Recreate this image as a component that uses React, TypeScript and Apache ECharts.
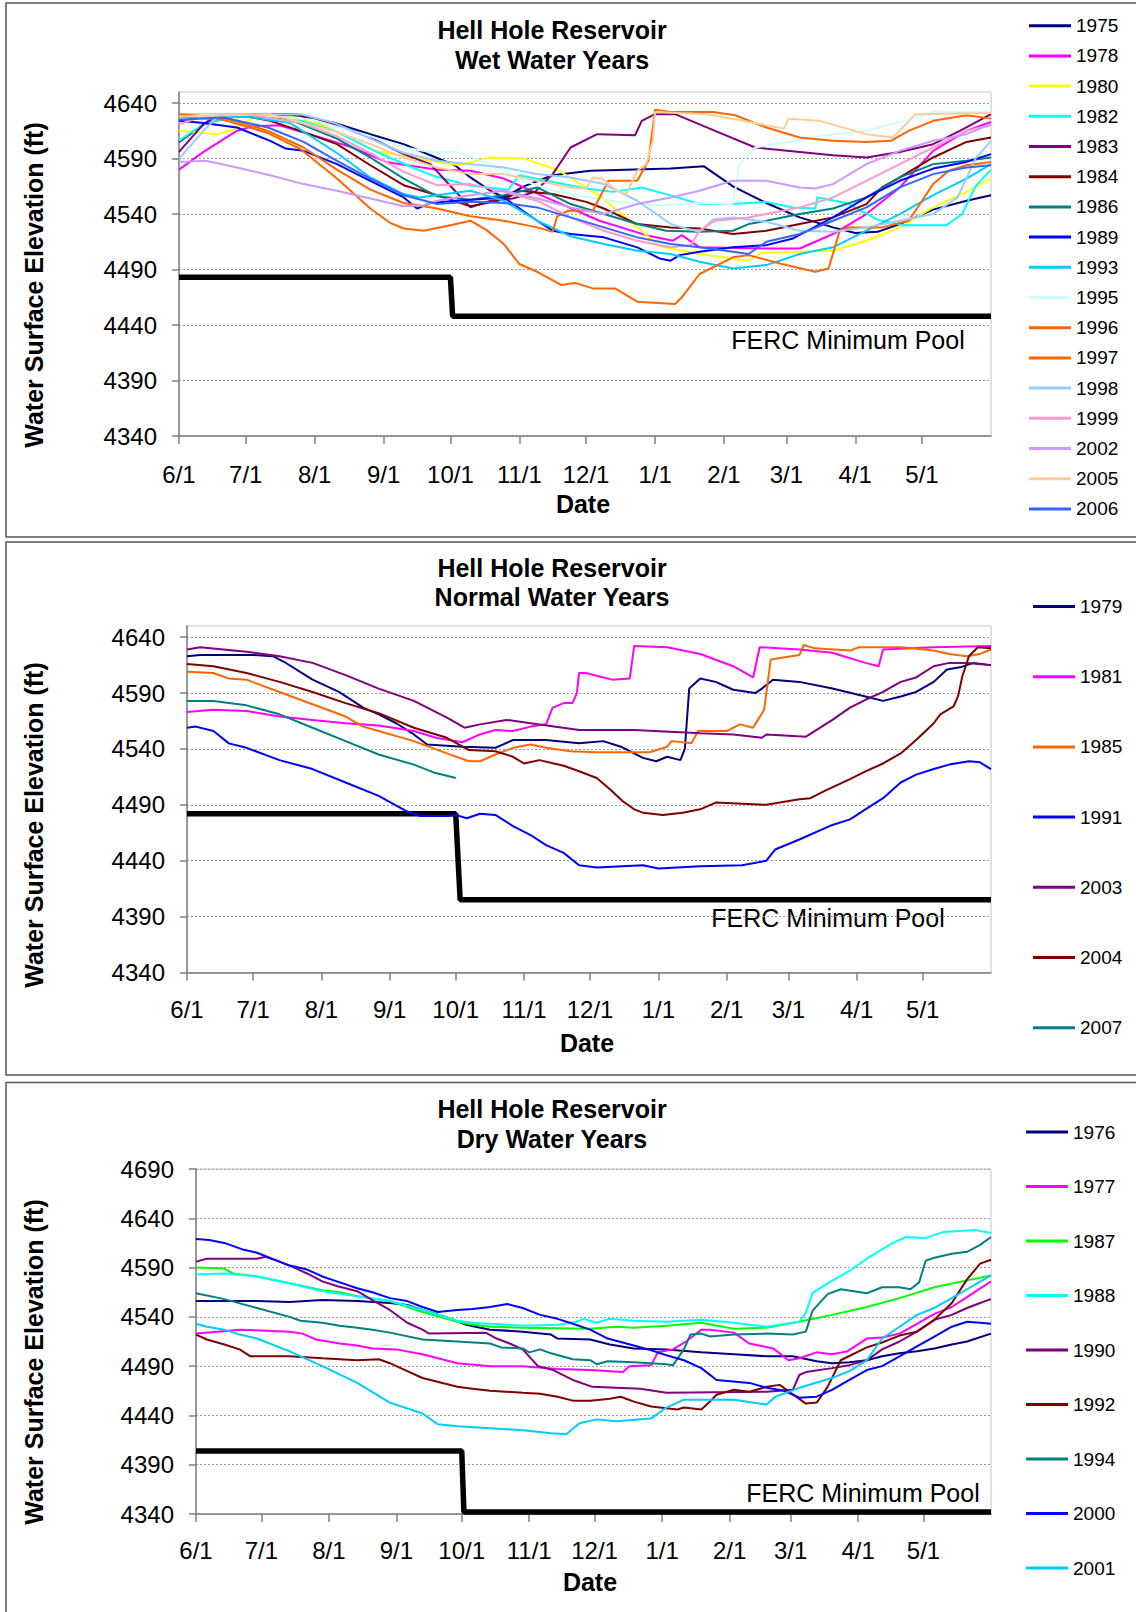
import React, { useEffect, useRef } from "react";
import * as echarts from "echarts";

// ---------- axis categories / tick labels ----------
const MONTH_DAYS = [0, 30, 61, 92, 122, 153, 183, 214, 245, 273, 304, 334];
const MONTH_LABELS = ["6/1", "7/1", "8/1", "9/1", "10/1", "11/1", "12/1", "1/1", "2/1", "3/1", "4/1", "5/1"];
const Y_TICKS_WET = [4340, 4390, 4440, 4490, 4540, 4590, 4640];
const Y_TICKS_NORMAL = [4340, 4390, 4440, 4490, 4540, 4590, 4640];
const Y_TICKS_DRY = [4340, 4390, 4440, 4490, 4540, 4590, 4640, 4690];

// ---------- Wet water years: [day since 6/1, elevation ft] ----------
const W_1975 = [[0,4605],[12,4622],[25,4628],[53,4629],[70,4622],[86,4612],[101,4603],[113,4593],[124,4584],[131,4573],[140,4561],[146,4555],[155,4565],[168,4575],[185,4579],[221,4581],[236,4583],[249,4565],[264,4550],[279,4537],[294,4528],[304,4523],[314,4524],[324,4531],[339,4544],[354,4552],[365,4557]];
const W_1978 = [[0,4580],[11,4596],[26,4615],[33,4619],[45,4620],[62,4610],[78,4600],[93,4587],[116,4580],[131,4579],[146,4572],[165,4555],[189,4534],[210,4521],[222,4516],[226,4521],[234,4510],[264,4509],[279,4509],[294,4522],[309,4540],[324,4564],[339,4597],[354,4615],[365,4623]];
const W_1980 = [[0,4615],[17,4612],[26,4617],[33,4627],[50,4628],[65,4620],[88,4597],[113,4588],[126,4584],[140,4591],[155,4590],[170,4580],[178,4570],[190,4555],[205,4530],[216,4511],[234,4504],[256,4498],[262,4505],[294,4507],[309,4516],[324,4528],[339,4546],[354,4560],[365,4572]];
const W_1982 = [[0,4606],[11,4621],[25,4628],[50,4627],[70,4615],[90,4595],[105,4582],[115,4574],[130,4566],[148,4562],[153,4575],[165,4570],[183,4563],[195,4560],[208,4564],[219,4558],[234,4549],[249,4549],[264,4551],[276,4546],[286,4545],[287,4555],[300,4550],[314,4535],[326,4530],[345,4530],[352,4540],[358,4565],[365,4580]];
const W_1983 = [[0,4596],[11,4621],[18,4630],[53,4630],[71,4620],[86,4609],[101,4594],[113,4585],[124,4561],[131,4546],[140,4552],[150,4554],[160,4560],[168,4576],[176,4600],[188,4612],[205,4611],[208,4624],[214,4630],[223,4630],[241,4615],[259,4600],[279,4596],[294,4593],[309,4591],[324,4596],[339,4603],[351,4615],[365,4630]];
const W_1984 = [[0,4630],[25,4630],[41,4624],[56,4614],[71,4603],[86,4584],[101,4566],[116,4557],[131,4547],[146,4553],[153,4561],[168,4558],[183,4551],[191,4545],[206,4531],[221,4528],[234,4527],[249,4522],[264,4525],[279,4531],[294,4537],[309,4549],[316,4564],[324,4573],[339,4591],[354,4605],[365,4609]];
const W_1986 = [[0,4630],[30,4630],[50,4625],[71,4608],[86,4591],[101,4572],[116,4556],[131,4553],[146,4557],[161,4564],[176,4549],[191,4540],[206,4531],[219,4525],[234,4524],[249,4525],[256,4531],[264,4534],[279,4540],[294,4545],[309,4555],[324,4573],[339,4585],[354,4588],[365,4591]];
const W_1989 = [[0,4624],[11,4622],[26,4618],[41,4606],[48,4599],[56,4597],[71,4585],[86,4570],[101,4555],[107,4545],[113,4550],[125,4552],[146,4555],[161,4534],[168,4525],[176,4522],[191,4519],[206,4510],[216,4500],[221,4498],[225,4503],[234,4506],[249,4510],[264,4512],[276,4518],[294,4537],[309,4555],[324,4570],[339,4581],[354,4587],[365,4594]];
const W_1993 = [[0,4627],[30,4628],[50,4622],[71,4595],[86,4573],[101,4558],[108,4555],[131,4561],[146,4552],[161,4534],[176,4520],[191,4513],[206,4507],[221,4504],[234,4497],[249,4491],[264,4494],[279,4504],[294,4510],[309,4525],[324,4540],[339,4557],[354,4572],[365,4585]];
const W_1995 = [[0,4630],[30,4630],[60,4625],[86,4610],[101,4600],[113,4596],[125,4596],[140,4585],[155,4570],[170,4560],[185,4555],[200,4550],[215,4548],[235,4550],[249,4549],[252,4585],[259,4600],[294,4612],[309,4615],[324,4623],[339,4632],[365,4632]];
const W_1996 = [[0,4628],[20,4625],[40,4613],[55,4598],[71,4572],[86,4545],[95,4532],[101,4527],[110,4525],[122,4530],[131,4534],[138,4526],[146,4513],[153,4495],[161,4488],[172,4476],[178,4478],[186,4473],[196,4473],[206,4461],[223,4459],[226,4465],[234,4486],[249,4501],[256,4503],[271,4495],[286,4488],[292,4491],[297,4525],[301,4528],[316,4528],[328,4534],[339,4567],[346,4579],[354,4584],[365,4587]];
const W_1997 = [[0,4630],[20,4627],[40,4615],[56,4600],[71,4580],[86,4562],[101,4550],[116,4545],[131,4538],[146,4534],[161,4528],[168,4524],[170,4538],[175,4543],[186,4543],[193,4570],[206,4570],[211,4588],[214,4634],[221,4632],[240,4632],[250,4629],[264,4618],[279,4609],[294,4606],[309,4605],[320,4606],[328,4615],[339,4624],[354,4629],[365,4626]];
const W_1998 = [[0,4590],[11,4615],[18,4629],[55,4630],[70,4622],[86,4608],[101,4595],[116,4588],[131,4585],[146,4582],[161,4576],[176,4573],[191,4567],[206,4552],[221,4531],[226,4528],[234,4524],[240,4535],[249,4537],[264,4533],[279,4525],[294,4524],[309,4528],[324,4534],[339,4540],[350,4555],[358,4590],[365,4606]];
const W_1999 = [[0,4621],[11,4628],[30,4630],[55,4622],[71,4610],[86,4595],[101,4578],[116,4566],[131,4567],[146,4560],[161,4552],[176,4537],[191,4525],[206,4516],[221,4510],[230,4512],[234,4525],[241,4534],[256,4537],[279,4546],[294,4555],[309,4570],[324,4585],[339,4600],[354,4615],[365,4620]];
const W_2002 = [[0,4587],[12,4588],[26,4582],[41,4575],[56,4567],[71,4561],[86,4554],[101,4547],[110,4548],[116,4552],[131,4557],[146,4561],[161,4554],[176,4546],[191,4540],[206,4549],[221,4555],[234,4561],[249,4570],[264,4570],[279,4564],[286,4563],[294,4567],[309,4585],[324,4597],[339,4606],[354,4612],[365,4621]];
const W_2005 = [[0,4628],[41,4630],[71,4614],[86,4603],[101,4591],[116,4582],[131,4576],[146,4576],[161,4570],[176,4564],[183,4563],[186,4573],[190,4572],[197,4561],[201,4558],[206,4579],[210,4585],[213,4606],[214,4632],[238,4630],[272,4617],[274,4626],[288,4624],[309,4612],[321,4609],[331,4630],[365,4631]];
const W_2006 = [[0,4625],[20,4627],[40,4618],[56,4605],[71,4588],[86,4572],[101,4557],[116,4549],[131,4551],[146,4550],[161,4546],[176,4537],[191,4528],[206,4519],[221,4513],[234,4510],[249,4506],[256,4504],[264,4515],[279,4522],[294,4534],[309,4546],[324,4564],[339,4576],[354,4582],[365,4584]];
const FERC_WET = [[0,4483],[122,4483],[123,4448],[365,4448]];

// ---------- Normal water years ----------
const N_1979 = [[0,4623],[6,4624],[30,4624],[39,4623],[44,4618],[57,4602],[69,4591],[80,4577],[87,4571],[95,4563],[103,4553],[109,4544],[125,4542],[140,4541],[148,4548],[163,4548],[178,4545],[189,4547],[197,4542],[207,4532],[213,4529],[218,4533],[224,4530],[226,4540],[228,4594],[233,4603],[240,4600],[248,4593],[258,4590],[261,4594],[266,4602],[278,4600],[293,4594],[308,4587],[316,4583],[324,4587],[331,4591],[339,4600],[345,4611],[351,4613],[357,4617],[365,4615]];
const N_1981 = [[0,4573],[12,4575],[27,4574],[42,4569],[57,4566],[72,4563],[87,4561],[103,4556],[113,4550],[125,4546],[133,4553],[140,4557],[148,4556],[156,4560],[163,4562],[166,4577],[171,4581],[175,4581],[177,4590],[178,4608],[181,4608],[193,4602],[201,4603],[203,4632],[218,4631],[233,4625],[248,4614],[257,4604],[260,4631],[278,4629],[293,4626],[308,4617],[314,4614],[316,4629],[339,4631],[365,4632]];
const N_1985 = [[0,4609],[12,4608],[19,4603],[27,4602],[42,4591],[57,4580],[72,4569],[80,4560],[87,4556],[103,4547],[118,4536],[128,4529],[133,4529],[140,4535],[148,4541],[156,4544],[163,4541],[174,4538],[186,4537],[210,4537],[218,4542],[220,4547],[229,4545],[232,4556],[245,4556],[251,4562],[257,4559],[262,4575],[265,4620],[278,4624],[280,4633],[285,4630],[301,4628],[305,4631],[324,4631],[339,4628],[346,4625],[354,4623],[360,4625],[365,4629]];
const N_1991 = [[0,4559],[4,4560],[12,4556],[19,4545],[27,4541],[42,4530],[57,4522],[72,4510],[87,4498],[100,4484],[106,4480],[118,4480],[122,4481],[127,4478],[133,4482],[140,4481],[148,4471],[156,4463],[163,4454],[171,4447],[178,4436],[186,4434],[207,4436],[214,4433],[233,4435],[252,4436],[263,4440],[267,4450],[278,4459],[293,4472],[301,4477],[308,4486],[316,4496],[324,4510],[331,4517],[339,4522],[346,4526],[355,4529],[360,4528],[365,4522]];
const N_2003 = [[0,4629],[6,4631],[27,4627],[42,4623],[57,4617],[72,4606],[87,4594],[103,4583],[118,4568],[126,4559],[133,4562],[145,4566],[156,4563],[178,4557],[203,4557],[233,4554],[248,4553],[261,4550],[263,4553],[281,4551],[293,4566],[301,4577],[308,4584],[316,4591],[324,4600],[331,4604],[339,4614],[346,4617],[354,4617],[365,4615]];
const N_2004 = [[0,4616],[12,4614],[27,4608],[42,4600],[57,4591],[72,4581],[87,4572],[103,4559],[118,4550],[128,4539],[140,4538],[148,4533],[153,4527],[160,4530],[171,4525],[178,4520],[186,4514],[192,4504],[198,4493],[203,4486],[207,4483],[216,4481],[225,4483],[233,4486],[240,4492],[263,4490],[278,4495],[283,4496],[290,4503],[301,4513],[308,4520],[316,4527],[324,4536],[331,4548],[339,4563],[342,4571],[348,4578],[350,4587],[352,4605],[355,4623],[359,4631],[365,4630]];
const N_2007 = [[0,4583],[12,4583],[27,4579],[42,4571],[57,4559],[72,4547],[87,4535],[103,4526],[112,4519],[118,4516],[122,4514]];
const FERC_NORMAL = [[0,4482],[122,4482],[124,4405],[365,4405]];

// ---------- Dry water years ----------
const D_1976 = [[0,4556],[28,4556],[43,4555],[58,4557],[74,4556],[89,4554],[97,4552],[104,4547],[117,4538],[124,4532],[135,4527],[150,4525],[163,4522],[166,4518],[181,4517],[190,4512],[201,4508],[216,4507],[232,4504],[247,4502],[262,4500],[274,4500],[285,4495],[292,4493],[300,4494],[308,4496],[315,4500],[323,4503],[331,4505],[339,4508],[347,4512],[354,4515],[365,4523]];
const D_1977 = [[0,4523],[10,4525],[20,4527],[43,4525],[49,4523],[55,4517],[66,4513],[74,4511],[81,4508],[92,4507],[104,4502],[120,4493],[135,4490],[150,4490],[166,4487],[181,4486],[196,4484],[199,4490],[209,4491],[212,4504],[219,4507],[225,4515],[232,4527],[236,4527],[247,4524],[254,4513],[265,4508],[272,4496],[277,4498],[285,4504],[292,4502],[299,4505],[308,4518],[315,4519],[323,4523],[331,4533],[339,4543],[347,4550],[354,4560],[365,4576]];
const D_1987 = [[0,4590],[13,4589],[17,4584],[28,4581],[43,4574],[58,4567],[66,4565],[74,4561],[89,4556],[104,4545],[120,4535],[127,4532],[135,4530],[150,4529],[181,4528],[193,4530],[201,4529],[216,4531],[232,4534],[247,4528],[262,4529],[277,4535],[292,4542],[308,4550],[323,4559],[339,4570],[354,4577],[365,4582]];
const D_1988 = [[0,4583],[13,4584],[28,4581],[43,4574],[58,4566],[74,4561],[89,4556],[104,4547],[120,4536],[127,4534],[150,4531],[166,4532],[175,4535],[178,4538],[184,4534],[190,4538],[201,4536],[216,4535],[232,4537],[247,4534],[262,4530],[277,4535],[280,4544],[283,4564],[290,4574],[301,4588],[308,4599],[320,4615],[326,4621],[335,4620],[343,4626],[358,4628],[365,4625]];
const D_1990 = [[0,4596],[5,4599],[28,4599],[32,4601],[37,4597],[43,4592],[51,4584],[58,4576],[65,4571],[74,4566],[81,4557],[89,4547],[97,4534],[104,4527],[107,4523],[133,4524],[138,4518],[144,4513],[150,4507],[157,4490],[164,4486],[173,4476],[182,4469],[204,4467],[216,4463],[262,4464],[274,4466],[277,4481],[280,4484],[292,4488],[300,4491],[308,4496],[315,4507],[323,4515],[331,4525],[339,4537],[347,4542],[354,4549],[360,4554],[365,4558]];
const D_1992 = [[0,4522],[5,4517],[13,4512],[20,4507],[25,4500],[43,4500],[58,4498],[74,4496],[84,4497],[89,4493],[97,4485],[104,4478],[120,4469],[127,4467],[135,4465],[150,4463],[158,4462],[166,4459],[173,4455],[181,4455],[190,4457],[195,4459],[201,4454],[209,4449],[221,4446],[224,4448],[232,4446],[235,4452],[239,4461],[247,4466],[254,4464],[262,4469],[268,4471],[273,4463],[280,4452],[285,4453],[290,4469],[296,4496],[308,4509],[315,4514],[323,4521],[331,4525],[339,4537],[347,4554],[354,4578],[360,4594],[365,4598]];
const D_1994 = [[0,4564],[13,4558],[28,4549],[43,4540],[48,4536],[58,4534],[66,4531],[74,4529],[81,4527],[89,4524],[104,4517],[120,4515],[135,4513],[140,4509],[150,4508],[153,4504],[158,4507],[163,4503],[173,4497],[181,4496],[184,4492],[189,4495],[201,4494],[216,4492],[219,4491],[224,4507],[227,4522],[232,4523],[236,4520],[247,4522],[262,4523],[274,4522],[280,4525],[283,4546],[290,4563],[296,4568],[308,4564],[315,4570],[323,4570],[328,4568],[332,4575],[335,4597],[339,4600],[347,4604],[354,4606],[360,4613],[365,4621]];
const D_2000 = [[0,4619],[6,4618],[13,4615],[22,4608],[28,4605],[36,4598],[43,4592],[51,4588],[58,4581],[66,4575],[74,4569],[81,4565],[89,4559],[97,4556],[104,4550],[111,4545],[120,4547],[127,4548],[135,4550],[143,4553],[150,4549],[158,4542],[166,4538],[173,4533],[181,4527],[189,4518],[201,4511],[209,4506],[216,4501],[224,4496],[232,4488],[239,4476],[254,4473],[262,4468],[270,4465],[277,4458],[285,4459],[292,4466],[300,4476],[308,4486],[315,4490],[323,4500],[331,4510],[339,4520],[347,4530],[354,4535],[360,4534],[365,4533]];
const D_2001 = [[0,4533],[5,4530],[13,4527],[20,4522],[28,4518],[43,4505],[58,4490],[74,4473],[89,4453],[104,4442],[111,4431],[120,4429],[135,4427],[150,4425],[163,4422],[170,4421],[176,4432],[184,4436],[193,4434],[209,4437],[216,4448],[224,4456],[247,4456],[262,4451],[266,4459],[277,4468],[292,4478],[300,4485],[308,4496],[315,4518],[323,4530],[331,4542],[339,4549],[347,4559],[354,4568],[365,4582]];
const FERC_DRY = [[0,4404],[122,4404],[123,4342],[365,4342]];

// ---------- series lists (name, colour, values) ----------
const WET_SERIES = [
  { name: "1975", color: "#000080", data: W_1975 },
  { name: "1978", color: "#FF00FF", data: W_1978 },
  { name: "1980", color: "#FFFF00", data: W_1980 },
  { name: "1982", color: "#00FFFF", data: W_1982 },
  { name: "1983", color: "#800080", data: W_1983 },
  { name: "1984", color: "#800000", data: W_1984 },
  { name: "1986", color: "#008080", data: W_1986 },
  { name: "1989", color: "#0000FF", data: W_1989 },
  { name: "1993", color: "#00CCFF", data: W_1993 },
  { name: "1995", color: "#CCFFFF", data: W_1995 },
  { name: "1996", color: "#FF6600", data: W_1996 },
  { name: "1997", color: "#FF6600", data: W_1997 },
  { name: "1998", color: "#99CCFF", data: W_1998 },
  { name: "1999", color: "#FF99CC", data: W_1999 },
  { name: "2002", color: "#CC99FF", data: W_2002 },
  { name: "2005", color: "#FFCC99", data: W_2005 },
  { name: "2006", color: "#3366FF", data: W_2006 },
];
const NORMAL_SERIES = [
  { name: "1979", color: "#000080", data: N_1979 },
  { name: "1981", color: "#FF00FF", data: N_1981 },
  { name: "1985", color: "#FF6600", data: N_1985 },
  { name: "1991", color: "#0000FF", data: N_1991 },
  { name: "2003", color: "#800080", data: N_2003 },
  { name: "2004", color: "#800000", data: N_2004 },
  { name: "2007", color: "#008080", data: N_2007 },
];
const DRY_SERIES = [
  { name: "1976", color: "#000080", data: D_1976 },
  { name: "1977", color: "#FF00FF", data: D_1977 },
  { name: "1987", color: "#00FF00", data: D_1987 },
  { name: "1988", color: "#00FFFF", data: D_1988 },
  { name: "1990", color: "#800080", data: D_1990 },
  { name: "1992", color: "#800000", data: D_1992 },
  { name: "1994", color: "#008080", data: D_1994 },
  { name: "2000", color: "#0000FF", data: D_2000 },
  { name: "2001", color: "#00CCFF", data: D_2001 },
];

const FONT = '"Liberation Sans", Arial, Helvetica, sans-serif';

// ---------- layout of the three panels ----------
const PANELS = [
  {
    key: "wet", sub: "Wet Water Years", series: WET_SERIES, ferc: FERC_WET, yTicks: Y_TICKS_WET,
    grid: { left: 179, top: 92, width: 812, height: 344 }, yMin: 4340, yMax: 4650,
    box: { y: 3, h: 534 }, titleY: 30, yNameY: 285, dateX: 583, dateY: 504, fercX: 848, fercY: 340,
    legendLeft: 1029, legendTop: 15.7, legendGap: 10.2, labelMargin: 26,
  },
  {
    key: "normal", sub: "Normal Water Years", series: NORMAL_SERIES, ferc: FERC_NORMAL, yTicks: Y_TICKS_NORMAL,
    grid: { left: 187, top: 626, width: 804, height: 346.5 }, yMin: 4340, yMax: 4650,
    box: { y: 542, h: 533 }, titleY: 567.5, yNameY: 825, dateX: 587, dateY: 1043, fercX: 828, fercY: 918,
    legendLeft: 1033, legendTop: 596.5, legendGap: 50.2, labelMargin: 25,
  },
  {
    key: "dry", sub: "Dry Water Years", series: DRY_SERIES, ferc: FERC_DRY, yTicks: Y_TICKS_DRY,
    grid: { left: 196, top: 1169, width: 795, height: 345 }, yMin: 4340, yMax: 4690,
    box: { y: 1082.5, h: 540 }, titleY: 1109, yNameY: 1362, dateX: 590, dateY: 1582, fercX: 863, fercY: 1493,
    legendLeft: 1026, legendTop: 1122, legendGap: 34.5, labelMargin: 24,
  },
];

function buildOption() {
  const grids: any[] = [];
  const xAxes: any[] = [];
  const yAxes: any[] = [];
  const series: any[] = [];
  const legends: any[] = [];
  const graphics: any[] = [];

  PANELS.forEach((p, i) => {
    grids.push({ ...p.grid, show: true, borderColor: "#c4c4c4", borderWidth: 1, backgroundColor: "#ffffff", containLabel: false });
    xAxes.push({
      type: "value", gridIndex: i, min: 0, max: 365,
      axisLine: { show: true, onZero: false, lineStyle: { color: "#808080", width: 1.5 } },
      axisTick: { show: true, customValues: MONTH_DAYS, length: 8, lineStyle: { color: "#808080", width: 1.5 } },
      axisLabel: {
        customValues: MONTH_DAYS, margin: p.labelMargin, fontSize: 24, color: "#000", fontFamily: FONT,
        formatter: (v: number) => { const k = MONTH_DAYS.indexOf(Math.round(v)); return k >= 0 ? MONTH_LABELS[k] : ""; },
      },
      splitLine: { show: false },
    });
    yAxes.push({
      type: "value", gridIndex: i, min: p.yMin, max: p.yMax,
      axisLine: { show: true, lineStyle: { color: "#808080", width: 1.5 } },
      axisTick: { show: true, customValues: p.yTicks, length: 7, lineStyle: { color: "#808080", width: 1.5 } },
      axisLabel: {
        customValues: p.yTicks, margin: 22, fontSize: 24, color: "#000", fontFamily: FONT,
        formatter: (v: number) => String(Math.round(v)),
      },
      splitLine: { show: true, lineStyle: { color: "#9a9a9a", width: 1, type: [2, 2] } },
    });
    series.push({
      type: "line", name: "FERC " + p.key, data: p.ferc, xAxisIndex: i, yAxisIndex: i,
      symbol: "none", silent: true, z: 2, lineStyle: { color: "#000", width: 5.5 }, itemStyle: { color: "#000" },
    });
    p.series.forEach((s) => {
      series.push({
        type: "line", name: s.name, data: s.data, xAxisIndex: i, yAxisIndex: i,
        symbol: "none", silent: true, z: 3, lineStyle: { color: s.color, width: 2 }, itemStyle: { color: s.color },
      });
    });
    legends.push({
      orient: "vertical", left: p.legendLeft, top: p.legendTop, itemGap: p.legendGap, padding: 0,
      itemWidth: 42, itemHeight: 3, icon: "rect", selectedMode: false,
      data: p.series.map((s) => s.name),
      textStyle: { fontSize: 19, color: "#000", fontFamily: FONT, lineHeight: 20 },
    });
    graphics.push(
      { type: "rect", silent: true, shape: { x: 6, y: p.box.y, width: 1140, height: p.box.h }, style: { fill: "none", stroke: "#555", lineWidth: 1.5 } },
      { type: "text", silent: true, x: 552, y: p.titleY, style: { text: "Hell Hole Reservoir", textAlign: "center", textVerticalAlign: "middle", font: `bold 25px ${FONT}`, fill: "#000" } },
      { type: "text", silent: true, x: 552, y: p.titleY + 29.5, style: { text: p.sub, textAlign: "center", textVerticalAlign: "middle", font: `bold 25px ${FONT}`, fill: "#000" } },
      { type: "text", silent: true, x: 34, y: p.yNameY, rotation: Math.PI / 2, style: { text: "Water Surface Elevation (ft)", textAlign: "center", textVerticalAlign: "middle", font: `bold 25px ${FONT}`, fill: "#000" } },
      { type: "text", silent: true, x: p.dateX, y: p.dateY, style: { text: "Date", textAlign: "center", textVerticalAlign: "middle", font: `bold 25px ${FONT}`, fill: "#000" } },
      { type: "text", silent: true, x: p.fercX, y: p.fercY, style: { text: "FERC Minimum Pool", textAlign: "center", textVerticalAlign: "middle", font: `25px ${FONT}`, fill: "#000" } },
    );
  });

  return {
    animation: false,
    backgroundColor: "#ffffff",
    textStyle: { fontFamily: FONT },
    grid: grids,
    xAxis: xAxes,
    yAxis: yAxes,
    legend: legends,
    series,
    graphic: { elements: graphics },
  };
}

export default function App() {
  const ref = useRef<HTMLDivElement>(null);
  useEffect(() => {
    if (!ref.current) return;
    const chart = echarts.init(ref.current, undefined, { renderer: "svg" });
    chart.setOption(buildOption() as any);
    return () => chart.dispose();
  }, []);
  return <div ref={ref} style={{ position: "absolute", left: 0, top: 0, width: 1136, height: 1612, background: "#fff" }} />;
}
